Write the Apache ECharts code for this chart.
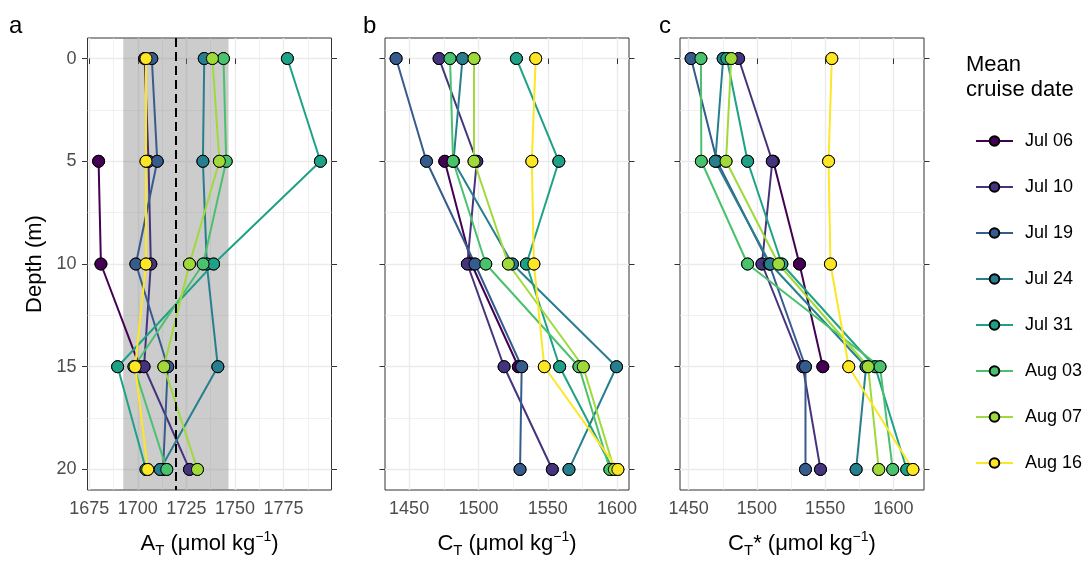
<!DOCTYPE html>
<html><head><meta charset="utf-8">
<script src="https://cdn.jsdelivr.net/npm/echarts@6/dist/echarts.min.js"></script>
<style>html,body{margin:0;padding:0;background:#fff}#c{width:1086px;height:563px}</style>
</head><body><div id="c"></div>
<script>
// ---------- data ----------
const depths = [0, 5, 10, 15, 20];
const dates = ['Jul 06', 'Jul 10', 'Jul 19', 'Jul 24', 'Jul 31', 'Aug 03', 'Aug 07', 'Aug 16'];
const viridis = ['#440154', '#46337E', '#365C8D', '#277F8E', '#1FA187', '#4AC16D', '#9FDA3A', '#FDE725'];

// A_T (µmol/kg) per date, at depths 0,5,10,15,20 m
const AT_values = [
  [null, 1679.8, 1681.0, 1701.0, null],     // Jul 06
  [1703.5, 1705.5, 1706.7, 1703.2, 1726.6], // Jul 10
  [1707.2, 1710.0, 1699.0, 1715.4, 1713.0], // Jul 19
  [1734.2, 1733.5, 1735.5, 1741.2, 1711.5], // Jul 24
  [1777.0, 1794.0, 1739.0, 1689.6, 1704.2], // Jul 31
  [1744.1, 1745.5, 1733.6, 1698.0, 1714.9], // Aug 03
  [1738.4, 1742.0, 1726.6, 1713.4, 1730.7], // Aug 07
  [1704.2, 1704.2, 1704.2, 1698.6, 1705.1]  // Aug 16
];
// C_T
const CT_values = [
  [null, 1475.7, 1495.0, 1528.8, null],
  [1471.6, 1498.8, 1492.0, 1518.5, 1553.3],
  [1440.6, 1462.5, 1497.5, 1531.2, 1530.0],
  [1488.5, 1482.0, 1524.5, 1599.6, 1565.3],
  [1527.4, 1558.0, 1534.6, 1558.6, 1597.0],
  [1479.5, 1481.7, 1505.3, 1572.5, 1594.8],
  [1496.8, 1496.8, 1521.6, 1575.6, 1598.0],
  [1541.3, 1538.5, 1540.0, 1547.5, 1600.6]
];
// C_T*
const CTstar_values = [
  [null, 1512.0, 1531.2, 1548.3, null],
  [1486.6, 1511.3, 1503.7, 1533.7, 1546.6],
  [1451.8, 1470.8, 1509.0, 1535.6, 1535.6],
  [1475.3, 1469.5, 1509.8, 1580.0, 1572.7],
  [1478.0, 1493.2, 1518.3, 1586.6, 1609.8],
  [1459.0, 1459.3, 1493.2, 1590.2, 1599.5],
  [1481.2, 1477.4, 1515.9, 1581.5, 1589.3],
  [1554.9, 1552.5, 1553.9, 1567.3, 1614.3]
];
const AT_mean = 1719.6;
const AT_sd = 27.1;

const depthTicks = [0, 5, 10, 15, 20];
const atTicks = [1675, 1700, 1725, 1750, 1775];
const ctTicks = [1450, 1500, 1550, 1600];
const panelTags = ['a', 'b', 'c'];

// ---------- helpers ----------
const FONT = "'Liberation Sans', Arial, Helvetica, sans-serif";
function extentOf(rows) {
  const v = rows.flat().filter(x => x != null);
  const lo = Math.min(...v), hi = Math.max(...v), pad = 0.05 * (hi - lo);
  return [lo - pad, hi + pad];
}
function minorOf(ticks, lo, hi) {
  const step = ticks[1] - ticks[0], out = [];
  for (let v = ticks[0] - step / 2; v <= hi; v += step) if (v >= lo) out.push(v);
  return out;
}
const plain = v => String(Math.round(v * 1000) / 1000);
const panels = [
  { vals: AT_values, ticks: atTicks, grid: { left: 87.5, top: 38, width: 244, height: 457 },
    name: '{m|A}{s|T}{m| (μmol kg}{p|−1}{m|)}', tagLeft: 9 },
  { vals: CT_values, ticks: ctTicks, grid: { left: 385, top: 38, width: 244, height: 457 },
    name: '{m|C}{s|T}{m| (μmol kg}{p|−1}{m|)}', tagLeft: 363 },
  { vals: CTstar_values, ticks: ctTicks, grid: { left: 680, top: 38, width: 244, height: 457 },
    name: '{m|C}{s|T}{m|* (μmol kg}{p|−1}{m|)}', tagLeft: 659 }
];
const yExt = extentOf([depths]);
const yMinor = minorOf(depthTicks, yExt[0], yExt[1]);

const nameRich = {
  m: { fontSize: 22, lineHeight: 28, fontFamily: FONT, color: '#000' },
  s: { fontSize: 15, lineHeight: 13, fontFamily: FONT, color: '#000', verticalAlign: 'bottom' },
  p: { fontSize: 14, lineHeight: 13, fontFamily: FONT, color: '#000', verticalAlign: 'top' }
};
const tickStyle = { color: '#333333', width: 1 };
const majorGrid = { color: '#EBEBEB', width: 1.4 };
const minorGrid = { color: '#EBEBEB', width: 0.7 };

const grid = [], xAxis = [], yAxis = [], series = [], titles = [];
panels.forEach((p, pi) => {
  grid.push(Object.assign({ show: true, borderColor: '#333333', borderWidth: 1, backgroundColor: 'transparent', containLabel: false }, p.grid));
  const ext = extentOf(p.vals);
  const xMinor = minorOf(p.ticks, ext[0], ext[1]);
  xAxis.push({
    type: 'value', gridIndex: pi, min: ext[0], max: ext[1], position: 'bottom',
    axisLine: { show: false },
    axisTick: { show: true, customValues: p.ticks, length: 5.5, lineStyle: tickStyle },
    axisLabel: { show: true, customValues: p.ticks, formatter: plain, fontSize: 18, color: '#4D4D4D', margin: 10, fontFamily: FONT },
    splitLine: { show: true, lineStyle: majorGrid },
    name: p.name, nameLocation: 'middle', nameGap: 40,
    nameTextStyle: { fontFamily: FONT, color: '#000', rich: nameRich }
  });
  xAxis.push({
    type: 'value', gridIndex: pi, min: ext[0], max: ext[1], position: 'bottom',
    axisLine: { show: false },
    axisTick: { show: false, customValues: xMinor },
    axisLabel: { show: false, customValues: xMinor },
    splitLine: { show: true, lineStyle: minorGrid }
  });
  yAxis.push({
    type: 'value', gridIndex: pi, min: yExt[0], max: yExt[1], inverse: true, position: 'left',
    axisLine: { show: false },
    axisTick: { show: true, customValues: depthTicks, length: 5.5, lineStyle: tickStyle },
    axisLabel: { show: pi === 0, customValues: depthTicks, formatter: plain, fontSize: 18, color: '#4D4D4D', margin: 11, fontFamily: FONT },
    splitLine: { show: true, lineStyle: majorGrid },
    name: pi === 0 ? 'Depth (m)' : '', nameLocation: 'middle', nameGap: 40,
    nameTextStyle: { fontFamily: FONT, fontSize: 22, color: '#000', lineHeight: 26 }
  });
  yAxis.push({
    type: 'value', gridIndex: pi, min: yExt[0], max: yExt[1], inverse: true, position: 'right',
    axisLine: { show: false },
    axisTick: { show: true, customValues: depthTicks, length: 5.5, lineStyle: tickStyle },
    axisLabel: { show: false, customValues: depthTicks },
    splitLine: { show: false }
  });
  yAxis.push({
    type: 'value', gridIndex: pi, min: yExt[0], max: yExt[1], inverse: true, position: 'left',
    axisLine: { show: false },
    axisTick: { show: false, customValues: yMinor },
    axisLabel: { show: false, customValues: yMinor },
    splitLine: { show: true, lineStyle: minorGrid }
  });
  titles.push({ text: panelTags[pi], left: p.tagLeft, top: 14, padding: 0,
    textStyle: { fontFamily: FONT, fontSize: 24, fontWeight: 'normal', color: '#000' } });

  const xi = pi * 2, yi = pi * 3;
  if (pi === 0) {
    series.push({
      type: 'scatter', xAxisIndex: xi, yAxisIndex: yi, data: [], z: 1, silent: true,
      markArea: { silent: true, itemStyle: { color: 'rgba(127,127,127,0.4)' },
        data: [[{ xAxis: AT_mean - AT_sd }, { xAxis: AT_mean + AT_sd }]] },
      markLine: { silent: true, symbol: ['none', 'none'], label: { show: false },
        lineStyle: { color: '#000', type: [9, 5], width: 2 },
        data: [{ xAxis: AT_mean }] }
    });
  }
  dates.forEach((d, di) => {
    const data = [];
    depths.forEach((z, k) => { if (p.vals[di][k] != null) data.push([p.vals[di][k], z]); });
    series.push({
      type: 'line', name: d, xAxisIndex: xi, yAxisIndex: yi, data, z: 2,
      symbol: 'circle', symbolSize: 12, showSymbol: true, showAllSymbol: true,
      lineStyle: { color: viridis[di], width: 2 },
      itemStyle: { color: viridis[di], borderColor: '#000', borderWidth: 1 }
    });
  });
  dates.forEach((d, di) => {
    const data = [];
    depths.forEach((z, k) => { if (p.vals[di][k] != null) data.push([p.vals[di][k], z]); });
    series.push({
      type: 'scatter', name: d, xAxisIndex: xi, yAxisIndex: yi, data, z: 3,
      symbol: 'circle', symbolSize: 12,
      itemStyle: { color: viridis[di], borderColor: '#000', borderWidth: 1, opacity: 1 }
    });
  });
});
titles.push({ text: 'Mean\ncruise date', left: 966, top: 52, padding: 0,
  textStyle: { fontFamily: FONT, fontSize: 22, fontWeight: 'normal', color: '#000', lineHeight: 25 } });

const chart = echarts.init(document.getElementById('c'), null, { renderer: 'canvas' });
chart.setOption({
  animation: false,
  backgroundColor: '#fff',
  title: titles,
  grid, xAxis, yAxis, series,
  legend: {
    data: dates, orient: 'vertical', left: 970, top: 126, selectedMode: false,
    itemWidth: 37, itemHeight: 12, itemGap: 26,
    textStyle: { fontFamily: FONT, fontSize: 18, color: '#000', lineHeight: 20, padding: [0, 0, 0, 7] }
  }
});
</script></body></html>
